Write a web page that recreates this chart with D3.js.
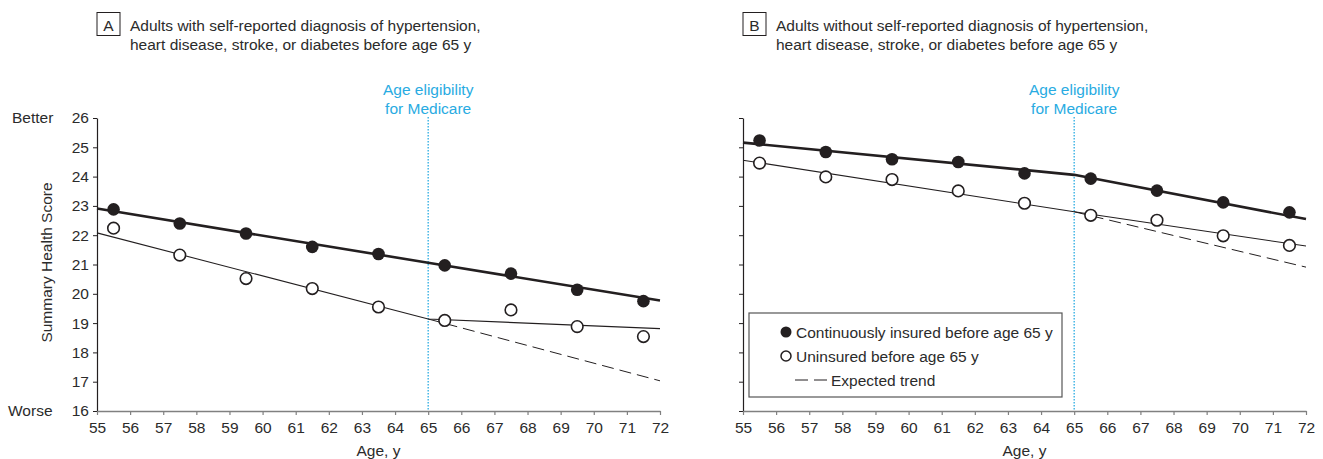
<!DOCTYPE html>
<html>
<head>
<meta charset="utf-8">
<script src="https://cdn.jsdelivr.net/npm/d3@7"></script>
<style>
  body { margin: 0; background: #fff; }
  text { font-family: "Liberation Sans", Arial, sans-serif; fill: #2b2b2b; }
</style>
</head>
<body>
<svg id="chart" width="1323" height="459"></svg>
<script>
// point estimates, midpoint of each 2-year age group
const ages = [55.5, 57.5, 59.5, 61.5, 63.5, 65.5, 67.5, 69.5, 71.5];
const insuredA = [22.88, 22.40, 22.06, 21.60, 21.36, 20.97, 20.69, 20.14, 19.75];
const uninsuredA = [22.24, 21.32, 20.52, 20.18, 19.55, 19.09, 19.45, 18.88, 18.54];
const insuredB = [25.23, 24.84, 24.59, 24.50, 24.11, 23.93, 23.52, 23.12, 22.78];
const uninsuredB = [24.46, 23.99, 23.90, 23.51, 23.09, 22.68, 22.51, 21.98, 21.65];

// fitted segments (age 55, 65, 72) and expected trend after 65
const fitAges = [55, 65, 72];
const insuredFitA = [22.91, 21.06, 19.77];
const uninsuredFitA = [22.08, 19.14, 18.81];
const expectedA = [19.14, 17.03];
const insuredFitB = [25.16, 24.06, 22.55];
const uninsuredFitB = [24.56, 22.80, 21.63];
const expectedB = [22.80, 20.91];

const xTicks = d3.range(55, 73);
const yTicks = d3.range(16, 27);

const titleA = ["Adults with self-reported diagnosis of hypertension,", "heart disease, stroke, or diabetes before age 65 y"];
const titleB = ["Adults without self-reported diagnosis of hypertension,", "heart disease, stroke, or diabetes before age 65 y"];
const legendLabels = ["Continuously insured before age 65 y", "Uninsured before age 65 y", "Expected trend"];

const svg = d3.select("#chart");
const blue = "#29abe2";
const fs = 15.5;

function drawPanel(opt) {
    const x = d3.scaleLinear().domain([55, 72]).range([opt.left, opt.left + 563]);
    const y = d3.scaleLinear().domain([16, 26]).range([411, 118]);
    const g = svg.append("g");

    // panel letter + title
    g.append("rect")
        .attr("x", opt.left).attr("y", 12.5)
        .attr("width", 23).attr("height", 23)
        .attr("fill", "none").attr("stroke", "#231f20").attr("stroke-width", 1);
    g.append("text")
        .attr("x", opt.left + 11.5).attr("y", 30.5)
        .attr("text-anchor", "middle").attr("font-size", fs)
        .text(opt.letter);
    opt.title.forEach((t, i) => {
        g.append("text")
            .attr("x", opt.left + 33).attr("y", 30.5 + i * 19.5)
            .attr("font-size", fs)
            .text(t);
    });

    // y axis
    const yAxis = d3.axisLeft(y).tickValues(yTicks).tickSize(4).tickSizeOuter(0).tickPadding(4);
    if (!opt.yLabels) yAxis.tickFormat("");
    const ya = g.append("g").attr("transform", `translate(${opt.left},0)`).call(yAxis);
    ya.select(".domain").attr("stroke", "#231f20").attr("stroke-width", 1.2);
    ya.selectAll(".tick line").attr("stroke", "#231f20");
    ya.selectAll("text").attr("font-size", fs).style("font-family", null);

    // x axis
    const xAxis = d3.axisBottom(x).tickValues(xTicks).tickSize(4).tickSizeOuter(0).tickPadding(7);
    const xa = g.append("g").attr("transform", "translate(0,411)").call(xAxis);
    xa.select(".domain").attr("stroke", "#808080").attr("stroke-width", 1.6);
    xa.selectAll(".tick line").attr("stroke", "#808080").attr("stroke-width", 1.2);
    xa.selectAll("text").attr("font-size", fs).style("font-family", null);

    g.append("text")
        .attr("x", (x(55) + x(72)) / 2).attr("y", 456)
        .attr("text-anchor", "middle").attr("font-size", fs)
        .text("Age, y");

    if (opt.yLabels) {
        g.append("text").attr("x", 12).attr("y", y(26) + 5).attr("font-size", fs).text("Better");
        g.append("text").attr("x", 8).attr("y", y(16) + 5).attr("font-size", fs).text("Worse");
        g.append("text")
            .attr("transform", `translate(52,${(y(16) + y(26)) / 2 - 2}) rotate(-90)`)
            .attr("text-anchor", "middle").attr("font-size", fs)
            .text("Summary Health Score");
    }

    // Medicare eligibility marker
    g.append("line")
        .attr("x1", x(65)).attr("x2", x(65))
        .attr("y1", 117).attr("y2", 411)
        .attr("stroke", blue).attr("stroke-width", 1.3)
        .attr("stroke-dasharray", "1.5,1.5");
    ["Age eligibility", "for Medicare"].forEach((t, i) => {
        g.append("text")
            .attr("x", x(65)).attr("y", 95 + i * 18.5)
            .attr("text-anchor", "middle").attr("font-size", fs)
            .style("fill", blue)
            .text(t);
    });

    const line = d3.line().x(d => x(d[0])).y(d => y(d[1]));

    // expected trend
    g.append("path")
        .attr("d", line(d3.zip([65, 72], opt.expected)))
        .attr("fill", "none").attr("stroke", "#231f20")
        .attr("stroke-width", 1).attr("stroke-dasharray", "12,6");
    // fitted lines
    g.append("path")
        .attr("d", line(d3.zip(fitAges, opt.uninsuredFit)))
        .attr("fill", "none").attr("stroke", "#231f20").attr("stroke-width", 1.1);
    g.append("path")
        .attr("d", line(d3.zip(fitAges, opt.insuredFit)))
        .attr("fill", "none").attr("stroke", "#231f20").attr("stroke-width", 2.6);

    // points
    g.append("g").selectAll("circle")
        .data(d3.zip(ages, opt.uninsured))
        .enter().append("circle")
        .attr("cx", d => x(d[0])).attr("cy", d => y(d[1])).attr("r", 5.8)
        .attr("fill", "#fff").attr("stroke", "#231f20").attr("stroke-width", 1.6);
    g.append("g").selectAll("circle")
        .data(d3.zip(ages, opt.insured))
        .enter().append("circle")
        .attr("cx", d => x(d[0])).attr("cy", d => y(d[1])).attr("r", 6.3)
        .attr("fill", "#231f20");

    return { x, y, g };
}

drawPanel({
    left: 97, letter: "A", title: titleA, yLabels: true,
    insured: insuredA, uninsured: uninsuredA,
    insuredFit: insuredFitA, uninsuredFit: uninsuredFitA, expected: expectedA
});

const pB = drawPanel({
    left: 743, letter: "B", title: titleB, yLabels: false,
    insured: insuredB, uninsured: uninsuredB,
    insuredFit: insuredFitB, uninsuredFit: uninsuredFitB, expected: expectedB
});

// legend inside panel B
const lg = pB.g.append("g").attr("transform", "translate(749,313)");
lg.append("rect")
    .attr("width", 313).attr("height", 84)
    .attr("fill", "#fff").attr("stroke", "#555").attr("stroke-width", 1.2);
legendLabels.forEach((t, i) => {
    const cy = 19 + i * 24;
    if (i === 0) {
        lg.append("circle").attr("cx", 37).attr("cy", cy).attr("r", 5.5).attr("fill", "#231f20");
    } else if (i === 1) {
        lg.append("circle").attr("cx", 37).attr("cy", cy).attr("r", 5)
            .attr("fill", "#fff").attr("stroke", "#231f20").attr("stroke-width", 1.5);
    } else {
        lg.append("line").attr("x1", 46).attr("x2", 78).attr("y1", cy).attr("y2", cy)
            .attr("stroke", "#231f20").attr("stroke-width", 1).attr("stroke-dasharray", "13,6");
    }
    lg.append("text")
        .attr("x", i === 2 ? 82 : 47).attr("y", cy + 5.5)
        .attr("font-size", fs)
        .text(t);
});
</script>
</body>
</html>
